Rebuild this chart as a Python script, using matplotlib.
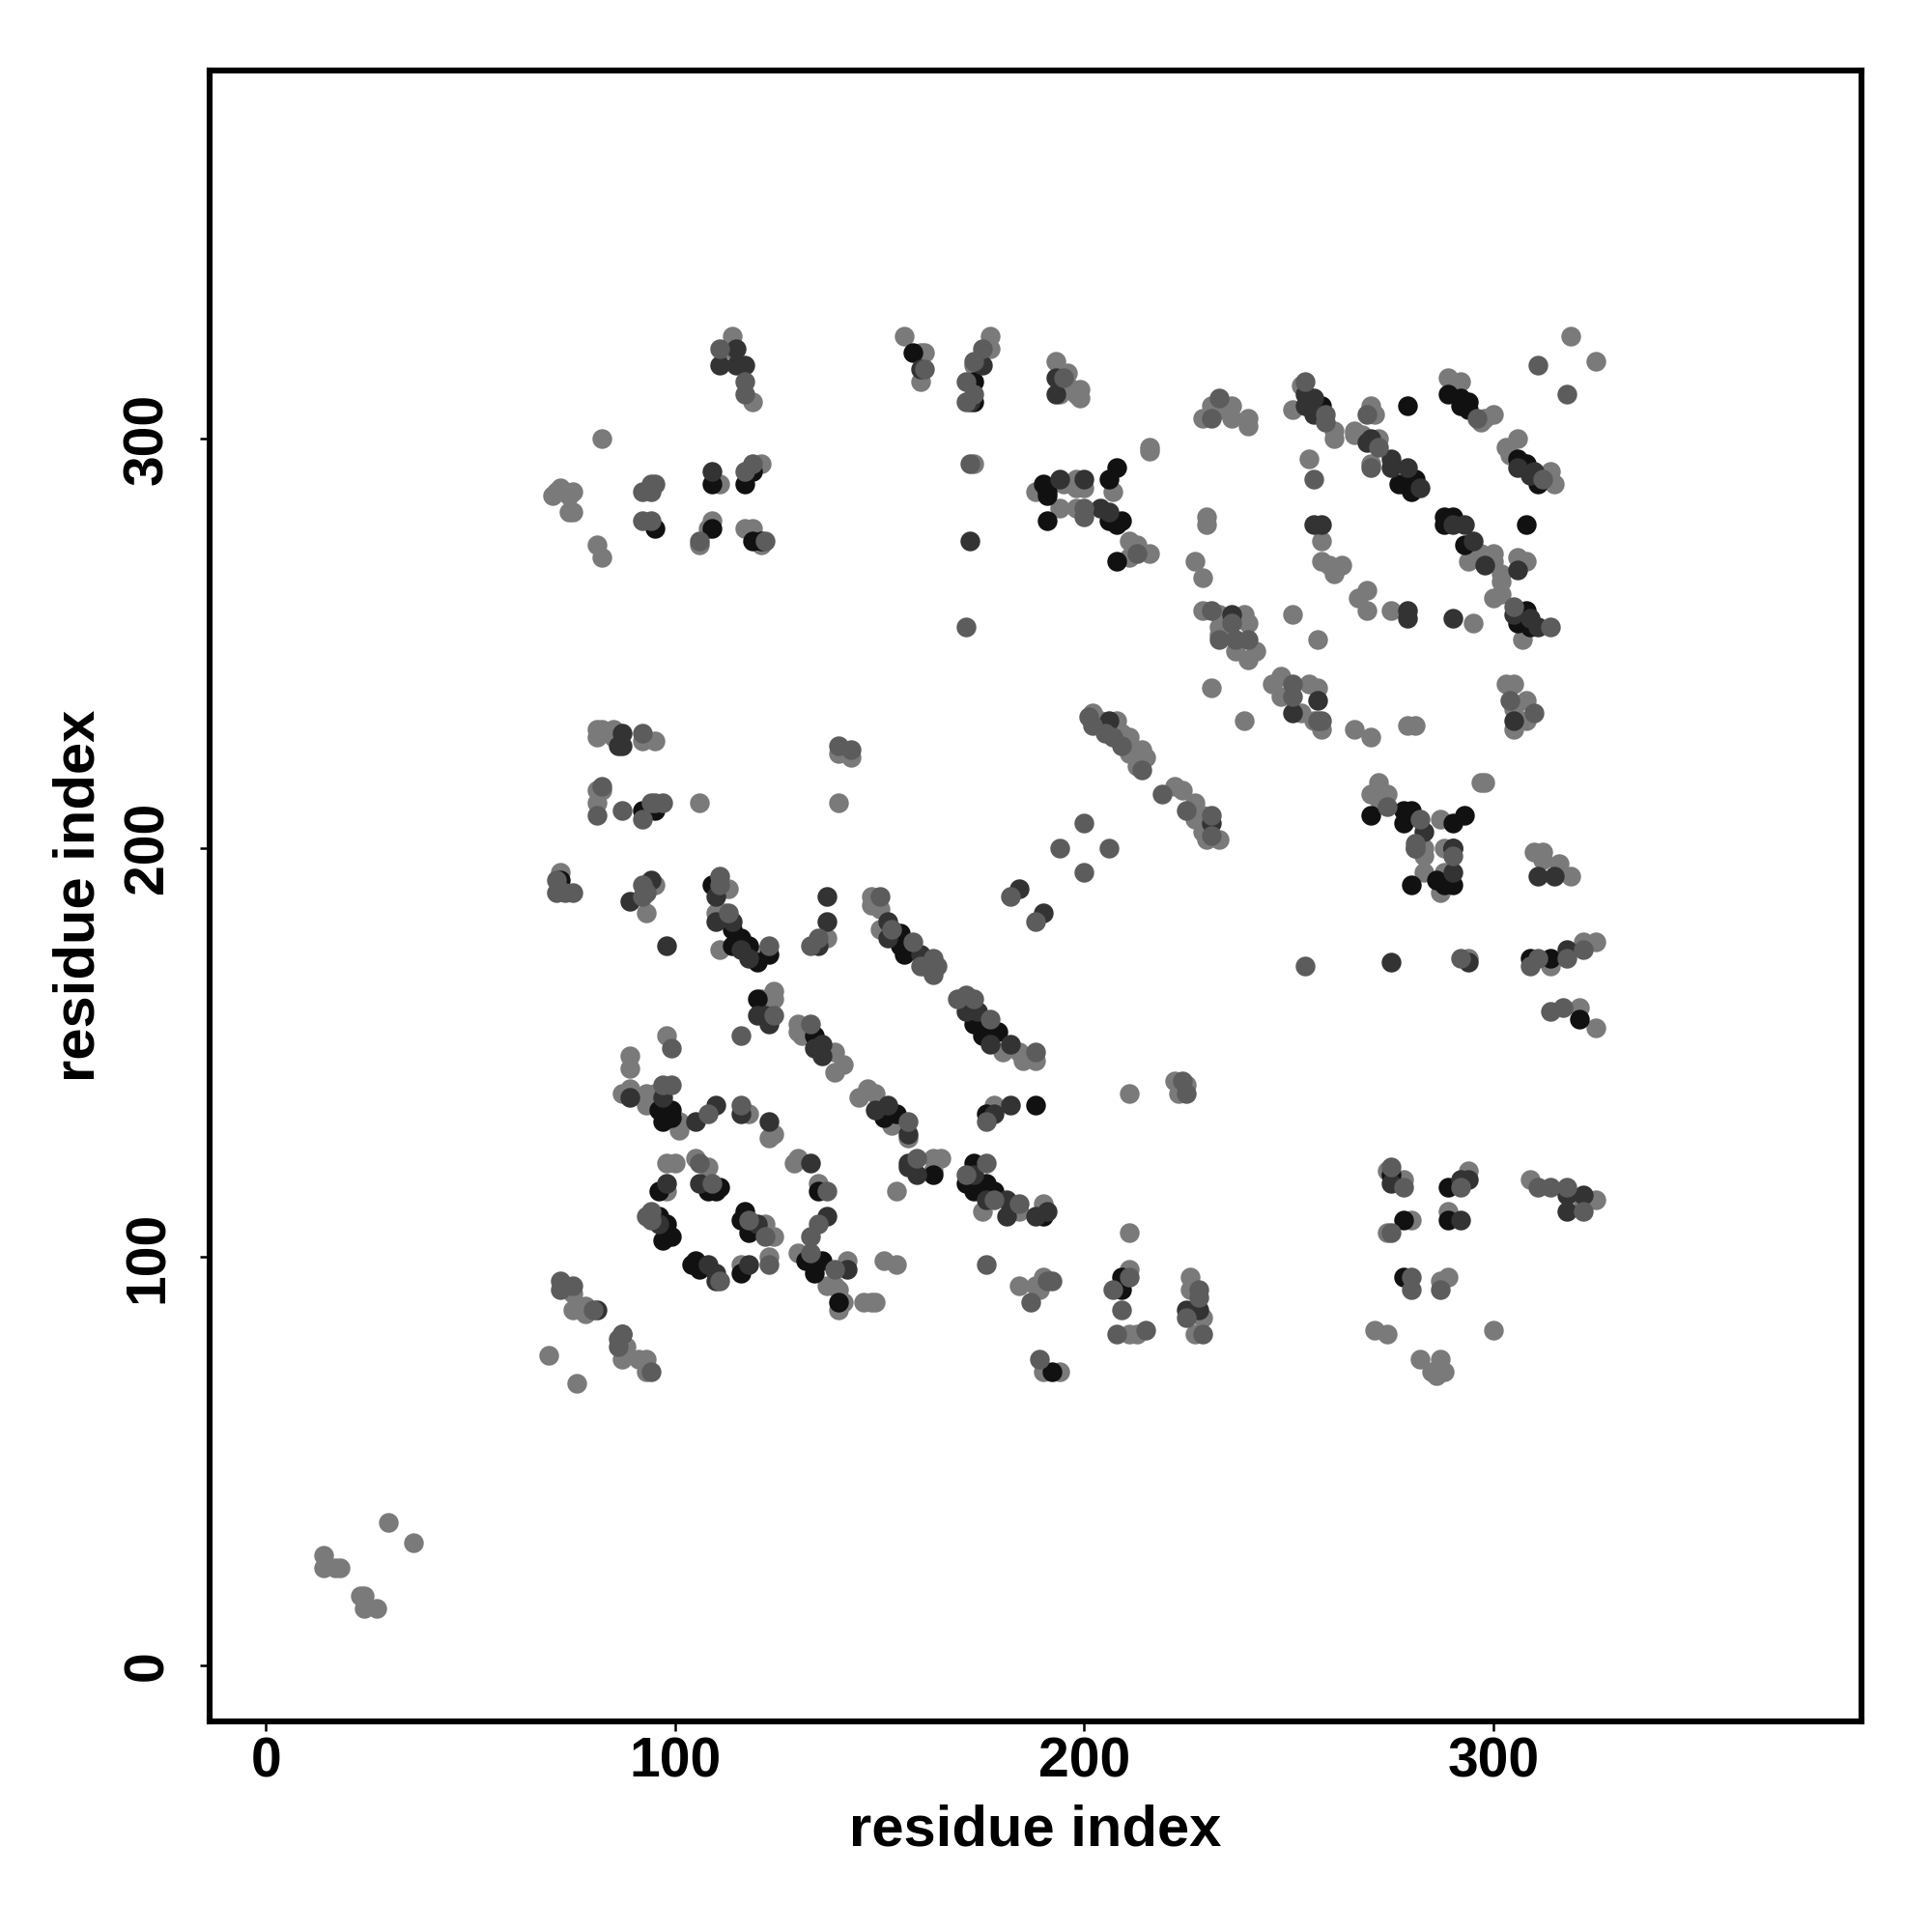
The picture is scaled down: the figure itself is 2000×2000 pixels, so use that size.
import numpy as np
import matplotlib
matplotlib.use("Agg")
import matplotlib.pyplot as plt

plt.rcParams['font.family'] = ['Liberation Sans', 'DejaVu Sans']

# contacts, one list per grey level
light = [(14,27),(14,24),(17,24),(18,24),(23,17),(24,17),(24,14),(27,14),(30,35),(36,30),
(114,325),(113,322),(119,309),(156,325),(160,321),(161,321),(177,325),(177,322),(160,314),(173,318),
(82,300),(70,286),(71,287),(72,288),(73,287),(75,287),(74,286),(74,282),(75,282),(111,289),(109,280),(108,278),(106,274),
(121,294),(117,278),(119,278),(121,274),(81,274),(82,271),(173,294),(81,229),(81,227),(82,229),(85,229),(85,227),(92,226),(95,226),
(140,223),(143,222),(140,211),(106,211),(82,214),(81,214),(81,211),
(193,319),(194,311),(196,316),(196,313),(199,312),(199,310),(198,311),(216,298),(216,297),(229,305),(231,308),(233,307),(236,308),(236,305),(240,305),(240,303),
(253,313),(251,307),(261,302),(261,300),(266,302),(266,301),(268,301),(272,300),(270,294),(270,308),(271,306),(289,315),(292,314),(297,304),(300,306),(298,305),
(306,300),(303,298),(304,296),(314,292),(315,289),(319,325),(325,319),(188,287),(195,289),(198,290),(200,288),(198,288),(207,287),(194,283),(198,283),
(211,275),(213,274),(211,271),(216,272),(230,281),(230,279),(227,270),(229,266),(258,275),(258,270),(260,269),(263,269),(261,267),(255,295),
(294,270),(297,272),(300,272),(300,270),(302,267),(302,265),(300,261),(302,262),(306,271),(308,270),(269,263),(267,261),(269,258),(275,258),(295,255),(251,257),(257,251),
(229,258),(233,257),(239,257),(240,255),(233,254),(237,248),(240,246),(242,248),(233,252),(307,251),(231,239),(239,231),(248,242),(246,240),(248,237),(255,240),(257,239),(253,233),(258,229),(256,231),
(266,229),(270,227),(279,230),(281,230),(303,240),(305,240),(308,236),(308,231),(305,229),(305,234),(202,233),(204,231),(208,231),(209,228),(211,227),(211,223),(214,224),(215,222),(213,220),
(222,215),(224,214),(227,211),(229,208),(227,207),(229,204),(233,202),(230,202),(272,216),(270,213),(274,213),(272,212),(287,207),(283,200),(288,200),(298,216),(297,216),(310,199),(312,199),
(72,194),(95,191),(113,190),(93,184),(110,184),(112,184),(121,174),(111,175),(137,178),(148,188),(148,186),(150,185),(150,180),(161,171),(124,165),(124,163),(121,163),
(130,157),(130,155),(131,154),(139,150),(141,147),(139,145),(174,159),(180,150),(184,150),(185,148),(188,148),(98,154),(89,149),(89,146),(87,140),(89,141),(93,140),(95,140),(93,137),(101,133),(101,131),
(118,135),(124,130),(123,129),(147,141),(145,139),(149,140),(153,132),(157,129),(178,137),(130,124),(129,123),(135,118),(98,123),(100,123),(98,116),(105,124),(108,122),(122,108),(124,105),
(116,98),(123,100),(130,101),(142,99),(139,93),(137,93),(141,89),(140,87),(140,92),(146,89),(148,89),(149,89),(151,99),(154,98),(154,116),(163,124),(165,124),(163,121),(184,111),(175,111),(190,113),
(184,93),(188,93),(190,95),(189,93),(190,72),(75,91),(75,87),(78,88),(78,86),(69,76),(76,69),(88,78),(87,75),(91,75),(93,75),(93,72),
(294,173),(314,171),(322,177),(325,177),(321,161),(325,156),(283,198),(283,194),(288,194),(287,189),(312,197),(316,196),(319,193),(211,140),(222,143),(223,140),(225,142),
(274,121),(278,119),(294,121),(309,119),(325,114),(322,113),(280,109),(274,106),(289,111),(211,106),(211,97),(226,95),(226,92),(229,85),(227,81),(211,81),(213,81),
(271,82),(274,81),(300,82),(287,94),(289,95),(282,75),(287,75),(285,72),(288,72),(286,71),(194,72),(189,92)]

mid = [(111,322),(117,314),(117,311),(175,322),(173,319),(171,314),(173,311),(171,309),(161,317),(92,287),(94,287),(94,289),(95,289),(92,280),(94,280),(106,275),(117,292),(119,294),(122,275),
(172,294),(171,254),(92,228),(140,225),(143,224),(82,215),(81,208),(87,209),(92,207),(95,211),(97,211),(94,211),(195,315),(231,305),(233,310),(254,314),(259,306),(259,304),(272,298),(270,293),(269,306),
(296,305),(312,290),(311,318),(318,311),(200,283),(200,281),(213,272),(256,290),(231,258),(236,255),(233,251),(237,251),(240,251),(314,254),(305,259),(251,240),(251,237),(257,231),(258,231),(304,236),(310,233),
(201,232),(202,230),(205,228),(207,227),(209,225),(214,219),(219,213),(225,209),(231,208),(231,203),(274,210),(282,207),(281,201),(281,200),(200,206),(194,200),(206,200),(200,194),
(71,192),(71,189),(73,189),(75,189),(92,191),(93,189),(92,188),(111,193),(111,191),(113,184),(123,176),(135,178),(133,176),(150,188),(153,180),(158,177),(160,171),(163,173),(164,171),(163,169),(182,188),(188,182),
(124,159),(116,154),(133,157),(169,163),(171,164),(173,163),(177,158),(188,150),(99,151),(97,142),(99,142),(108,135),(116,137),(157,133),(176,133),(106,123),(137,116),(135,108),(133,105),(109,118),
(94,111),(93,110),(94,109),(118,109),(122,105),(111,94),(123,98),(133,101),(139,97),(159,124),(171,120),(176,123),(184,113),(178,114),(176,98),(187,89),(191,94),(189,75),
(72,94),(72,92),(75,93),(80,87),(87,81),(86,80),(86,78),(94,72),(254,171),(292,173),(309,171),(311,173),(318,173),(322,175),(314,160),(317,161),(281,200),(290,198),(224,143),(225,140),
(275,122),(278,117),(292,117),(311,117),(314,117),(318,117),(322,111),(275,106),(211,95),(207,92),(209,87),(208,81),(215,82),(228,92),(228,90),(225,85),(229,81),(280,95),(280,92),(287,92),(192,94)]

dark = [(111,318),(115,318),(117,318),(115,322),(175,318),(172,309),(160,317),(109,292),(172,275),(87,228),(87,225),(86,225),(193,315),(193,311),(254,311),(256,310),(254,308),(256,306),(269,299),(270,300),
(275,295),(275,293),(279,293),(282,288),(306,293),(310,292),(309,291),(194,290),(200,290),(204,283),(206,282),(256,279),(258,279),(290,279),(293,279),(295,275),(298,269),(306,268),(279,258),(279,256),(290,256),
(236,257),(305,257),(309,256),(311,254),(257,236),(251,233),(305,231),(206,231),(231,206),(283,204),(94,192),(89,187),(98,176),(110,188),(110,182),(114,182),(116,175),(118,173),(137,188),(137,182),(135,176),
(152,182),(152,178),(160,174),(184,190),(190,184),(120,159),(123,157),(122,159),(136,152),(134,151),(136,149),(171,160),(174,160),(177,152),(182,152),(89,139),(97,139),(105,133),(110,137),(116,135),(123,133),
(149,136),(152,137),(157,130),(182,137),(178,135),(133,123),(98,118),(106,118),(137,110),(96,108),(120,108),(108,98),(110,96),(110,94),(118,98),(142,97),(157,123),(157,122),(159,120),(173,120),(176,114),(181,114),
(181,110),(188,110),(191,111),(81,87),(87,81),(275,172),(294,172),(318,175),(275,118),(292,119),(294,119),(318,115),(322,115),(318,111),(292,109),(225,87),(228,87),(290,200),(290,194),(311,193),(315,193)]

black = [(158,321),(173,314),(173,309),(109,289),(117,289),(119,292),(95,278),(109,278),(119,275),(121,275),(92,209),(95,209),(191,280),(190,289),(191,287),(191,286),(206,290),(208,293),(206,280),(209,280),(208,279),
(258,308),(278,289),(281,290),(280,287),(277,289),(279,308),(289,311),(292,310),(294,309),(292,308),(294,307),(306,295),(308,294),(311,289),(288,281),(290,281),(288,279),(293,274),(308,279),(208,270),
(308,258),(306,255),(309,254),(270,208),(278,209),(280,209),(278,206),(290,206),(293,208),(290,200),(72,192),(109,191),(114,180),(116,178),(114,176),(118,176),(120,172),(123,174),(155,179),(155,176),(156,174),
(120,163),(134,154),(173,157),(175,154),(179,155),(96,136),(99,136),(97,133),(99,134),(154,135),(151,134),(188,137),(176,135),(135,116),(96,116),(111,117),(108,116),(110,116),(96,110),(98,108),(99,105),(97,104),
(117,111),(116,109),(118,106),(104,98),(105,99),(106,97),(116,96),(132,99),(136,99),(134,96),(140,89),(163,120),(173,123),(171,118),(176,118),(173,116),(178,116),(190,110),(192,72),(280,191),(286,192),(288,191),(290,191),
(309,173),(314,173),(321,158),(275,120),(289,117),(278,109),(289,109),(209,95),(209,92),(278,95)]

layers = [(light, '#7a7a7a'), (black, '#111111'), (dark, '#333333'), (mid, '#5c5c5c')]

fig = plt.figure(figsize=(10, 10), dpi=200)
ax = fig.add_axes([217/2000, 1 - 1782/2000, (1927-217)/2000, (1782-73)/2000])

for pts, col in layers:
    xy = np.array(pts)
    ax.scatter(xy[:, 0], xy[:, 1], s=54, c=col, linewidths=0, zorder=2)

ax.set_xlim(-13.8, 390)
ax.set_ylim(-13.6, 390)
ax.set_xticks([0, 100, 200, 300])
ax.set_yticks([0, 100, 200, 300])
ax.tick_params(length=3.5, width=0.9, labelsize=20.5)
ax.tick_params(axis='x', pad=2)
ax.tick_params(axis='y', pad=9.6)
for lab in ax.get_xticklabels() + ax.get_yticklabels():
    lab.set_fontweight('bold')
for lab in ax.get_yticklabels():
    lab.set_rotation(90)
    lab.set_va('center')
for sp in ax.spines.values():
    sp.set_linewidth(2.2)

ax.set_xlabel("residue index", fontsize=21.5, fontweight='bold', labelpad=6)
ax.set_ylabel("residue index", fontsize=21.5, fontweight='bold', labelpad=6.2)

fig.savefig("out.png", dpi=200)
